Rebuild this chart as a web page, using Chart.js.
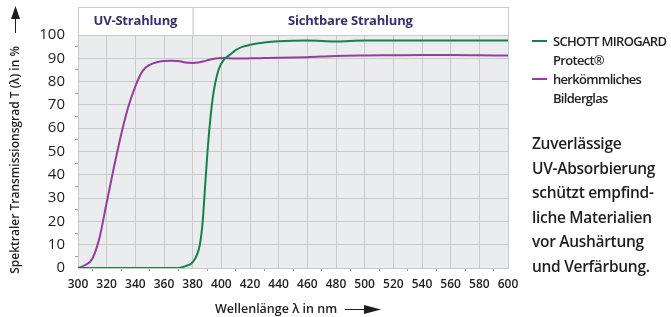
<!DOCTYPE html>
<html>
<head>
<meta charset="utf-8">
<script src="https://cdn.jsdelivr.net/npm/chart.js@4"></script>
<style>
body { margin: 0; background: #fff; }
#wrap { position: relative; width: 671px; height: 317px; }
#note { position: absolute; left: 532px; top: 131px; font: 600 15.5px 'Open Sans', sans-serif; line-height: 24.6px; color: #1e1e1e; letter-spacing: -0.3px; }
</style>
</head>
<body>
<div id="wrap">
  <canvas id="c" width="671" height="317"></canvas>
  <div id="note">Zuverlässige<br>UV-Absorbierung<br>schützt empfind-<br>liche Materialien<br>vor Aushärtung<br>und Verfärbung.</div>
</div>
<script>
// wavelengths in nm, shared by both curves
const wavelengths = [300, 305, 310, 315, 320, 325, 330, 335, 340, 345, 350, 355, 360, 365, 370, 375, 380, 385, 387, 389, 391, 394, 398, 402, 406, 410, 415, 420, 430, 440, 460, 480, 500, 520, 540, 560, 580, 600];
const schott = [0, 0, 0, 0, 0, 0, 0, 0, 0, 0, 0, 0, 0, 0, 0, 0.8, 2.5, 10, 20, 38, 55, 73, 85, 89.5, 91.5, 93.5, 95, 95.8, 96.8, 97.3, 97.6, 97.2, 97.6, 97.6, 97.6, 97.6, 97.6, 97.6];
const standard = [0, 1.3, 4, 13, 28, 43, 57, 69, 78, 84.5, 87.2, 88.3, 88.8, 89, 88.8, 88.2, 88, 88.3, 88.6, 88.9, 89.3, 89.7, 90, 90.1, 90, 89.9, 89.9, 90, 90.1, 90.2, 90.5, 91, 91.2, 91.3, 91.4, 91.4, 91.3, 91.2];
const seriesNames = [['SCHOTT MIROGARD', 'Protect®'], ['herkömmliches', 'Bilderglas']];
const bands = [{ label: 'UV-Strahlung', from: 300, to: 380 }, { label: 'Sichtbare Strahlung', from: 380, to: 600 }];
const xTicks = { min: 300, max: 600, step: 20 };
const yTicks = { min: 0, max: 100, step: 10 };

const green = '#16804f';
const purple = '#923e9f';
const gridCol = '#c8cacb';

function pts(vals) {
    return wavelengths.map(function (w, i) { return { x: w, y: vals[i] }; });
}

const decor = {
    id: 'decor',
    beforeDraw: function (chart) {
        const a = chart.chartArea, ctx = chart.ctx;
        ctx.save();
        ctx.fillStyle = '#ebeced';
        ctx.fillRect(a.left, a.top, a.right - a.left, a.bottom - a.top);
        ctx.restore();
    },
    afterDraw: function (chart) {
        const a = chart.chartArea, ctx = chart.ctx, xs = chart.scales.x;
        ctx.save();
        // band header boxes
        bands.forEach(function (b) {
            const x0 = xs.getPixelForValue(b.from), x1 = xs.getPixelForValue(b.to);
            ctx.fillStyle = '#fff';
            ctx.fillRect(x0, 7, x1 - x0, a.top - 7);
            ctx.strokeStyle = gridCol;
            ctx.lineWidth = 1;
            ctx.strokeRect(x0 + 0.5, 7.5, x1 - x0, a.top - 7);
            ctx.fillStyle = '#3a2f6c';
            ctx.font = 'bold 13px "Open Sans"';
            ctx.letterSpacing = '-0.2px';
            ctx.textAlign = 'center';
            ctx.textBaseline = 'middle';
            ctx.fillText(b.label, (x0 + x1) / 2, 21);
        });

        // y title with arrow
        ctx.fillStyle = '#1e1e1e';
        ctx.strokeStyle = '#1e1e1e';
        ctx.save();
        ctx.translate(16, 160);
        ctx.rotate(-Math.PI / 2);
        ctx.font = '600 12px "Open Sans"';
        ctx.letterSpacing = '0px';
        ctx.textAlign = 'center';
        ctx.textBaseline = 'middle';
        ctx.fillText('Spektraler Transmissionsgrad T (λ) in %', 0, 0);
        ctx.restore();
        ctx.lineWidth = 1;
        ctx.beginPath(); ctx.moveTo(15.5, 33); ctx.lineTo(15.5, 17); ctx.stroke();
        ctx.beginPath(); ctx.moveTo(15.5, 6); ctx.lineTo(20, 19); ctx.lineTo(11, 19); ctx.closePath(); ctx.fill();

        // x title with arrow
        ctx.font = '600 12.5px "Open Sans"';
        ctx.letterSpacing = '0px';
        ctx.textAlign = 'left';
        ctx.textBaseline = 'middle';
        ctx.fillText('Wellenlänge λ in nm', 215, 309);
        ctx.beginPath(); ctx.moveTo(345, 309.5); ctx.lineTo(368, 309.5); ctx.stroke();
        ctx.beginPath(); ctx.moveTo(381, 309.5); ctx.lineTo(364, 305); ctx.lineTo(364, 314); ctx.closePath(); ctx.fill();

        // legend
        ctx.font = '600 13px "Open Sans"';
        ctx.letterSpacing = '-0.7px';
        chart.data.datasets.forEach(function (ds, i) {
            const y = 42 + i * 38;
            ctx.strokeStyle = ds.borderColor;
            ctx.lineWidth = 2;
            ctx.beginPath(); ctx.moveTo(532, y - 1); ctx.lineTo(547, y - 1); ctx.stroke();
            ctx.fillStyle = '#1e1e1e';
            seriesNames[i].forEach(function (t, j) {
                ctx.fillText(t, 553, y + j * 19);
            });
        });
        ctx.restore();
    }
};

new Chart(document.getElementById('c'), {
    type: 'line',
    data: {
        datasets: [{
            label: seriesNames[0].join(' '),
            data: pts(schott),
            borderColor: green,
            borderWidth: 2,
            pointRadius: 0,
            cubicInterpolationMode: 'monotone'
        }, {
            label: seriesNames[1].join(' '),
            data: pts(standard),
            borderColor: purple,
            borderWidth: 2,
            pointRadius: 0,
            cubicInterpolationMode: 'monotone'
        }]
    },
    options: {
        responsive: false,
        animation: false,
        layout: { padding: { top: 35, right: 163, left: 0, bottom: 0 } },
        plugins: { legend: { display: false }, tooltip: { enabled: false } },
        scales: {
            x: {
                type: 'linear',
                min: xTicks.min,
                max: xTicks.max,
                afterFit: function (s) { s.height = 49; },
                afterBuildTicks: function (s) {
                    s.ticks = [];
                    for (let v = xTicks.min; v <= xTicks.max; v += xTicks.step / 2) s.ticks.push({ value: v });
                },
                ticks: {
                    autoSkip: false,
                    maxRotation: 0,
                    padding: 6,
                    color: '#1e1e1e',
                    font: { family: 'Open Sans', size: 12, weight: '600' },
                    callback: function (v) { return v % xTicks.step === 0 ? v : ''; }
                },
                grid: {
                    color: function (c) { return c.tick && c.tick.value % xTicks.step === 0 ? gridCol : 'rgba(0,0,0,0)'; },
                    tickColor: function (c) { return c.tick && c.tick.value % xTicks.step === 0 ? 'rgba(0,0,0,0)' : '#9a9c9d'; },
                    tickLength: 3
                },
                border: { color: gridCol }
            },
            y: {
                min: yTicks.min,
                max: yTicks.max,
                afterFit: function (s) { s.width = 78; },
                afterBuildTicks: function (s) {
                    s.ticks = [];
                    for (let v = yTicks.min; v <= yTicks.max; v += yTicks.step / 2) s.ticks.push({ value: v });
                },
                ticks: {
                    autoSkip: false,
                    padding: 10,
                    color: '#1e1e1e',
                    font: { family: 'Open Sans', size: 15 },
                    callback: function (v) { return v % yTicks.step === 0 ? v : ''; }
                },
                grid: {
                    color: function (c) { return c.tick && c.tick.value % yTicks.step === 0 ? gridCol : 'rgba(0,0,0,0)'; },
                    tickColor: function (c) { return c.tick && c.tick.value % yTicks.step === 0 ? 'rgba(0,0,0,0)' : '#9a9c9d'; },
                    tickLength: 3
                },
                border: { color: gridCol }
            }
        }
    },
    plugins: [decor]
});
</script>
</body>
</html>
